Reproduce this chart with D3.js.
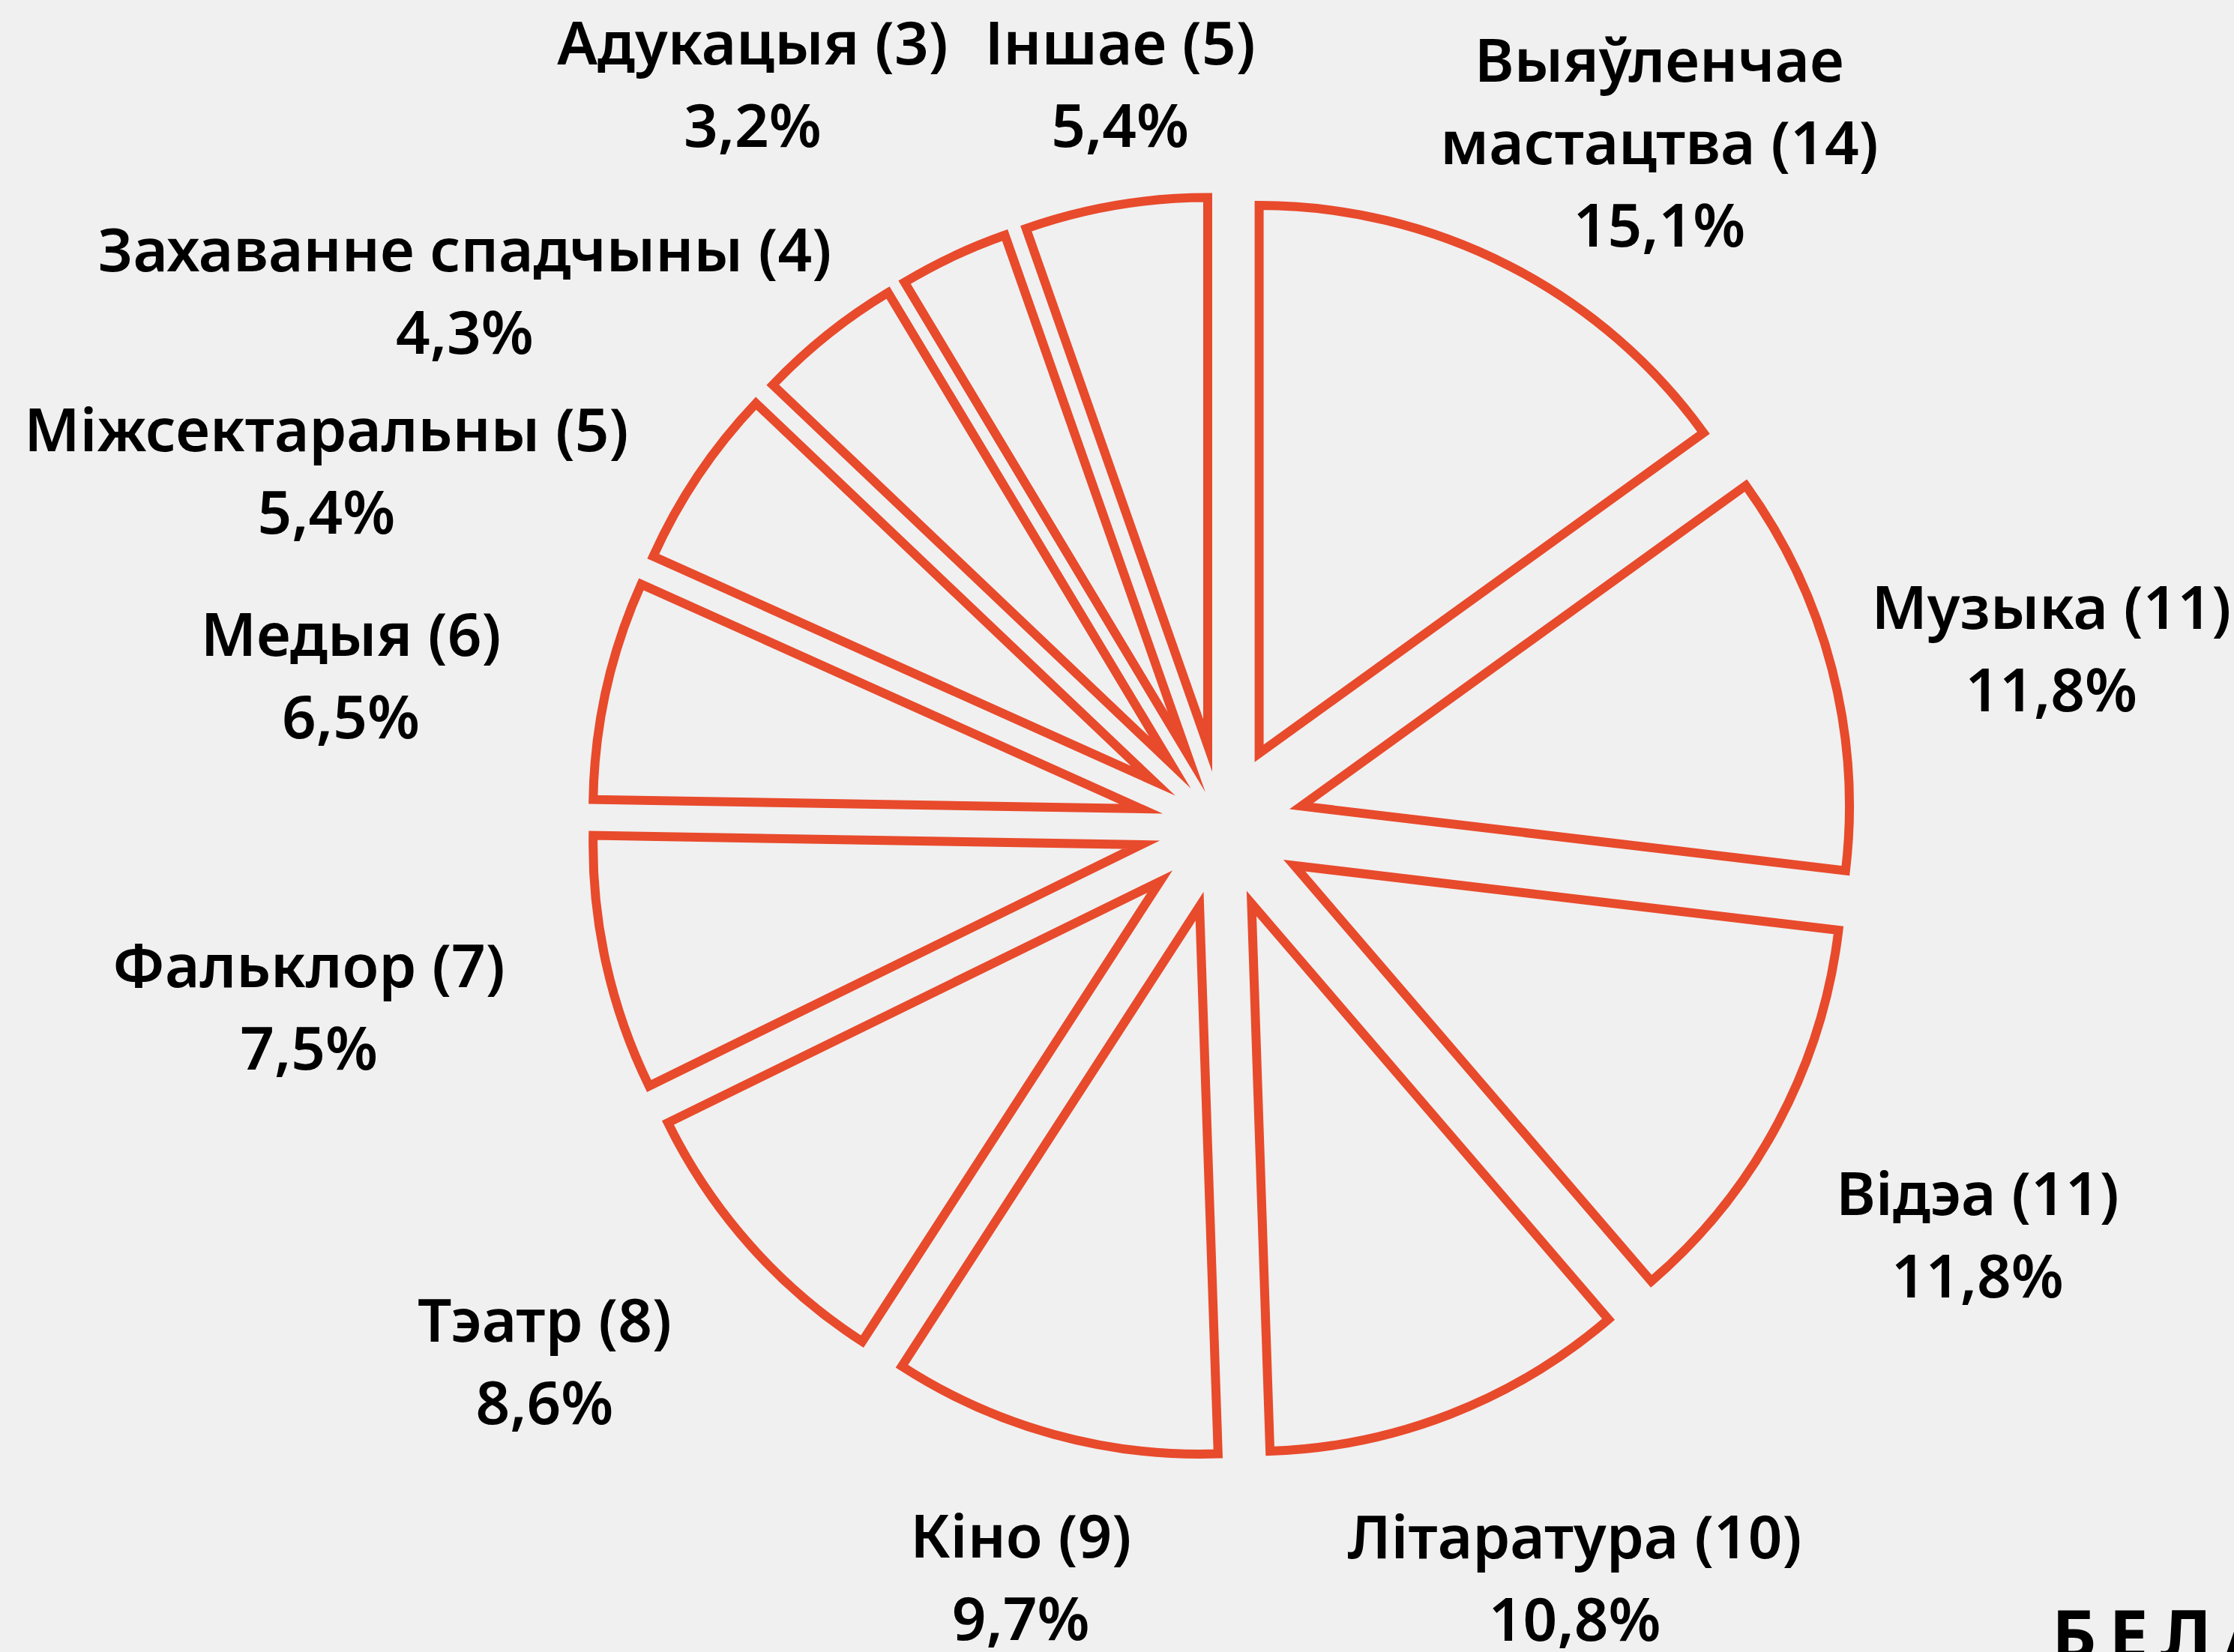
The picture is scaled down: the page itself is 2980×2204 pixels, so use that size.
<!DOCTYPE html>
<html><head><meta charset="utf-8">
<script src="https://cdn.jsdelivr.net/npm/d3@7"></script>
<style>html,body{margin:0;padding:0;background:#f0f0f0;overflow:hidden} svg{display:block}</style>
</head><body>
<script>
// ---- data ----
const categories = ["Выяўленчае мастацтва","Музыка","Відэа","Літаратура","Кіно","Тэатр","Фальклор","Медыя","Міжсектаральны","Захаванне спадчыны","Адукацыя","Іншае"];
const counts = [14,11,11,10,9,8,7,6,5,4,3,5];
const percentLabels = ["15,1%","11,8%","11,8%","10,8%","9,7%","8,6%","7,5%","6,5%","5,4%","4,3%","3,2%","5,4%"];
const footerText = "БЕЛАРУСЬ";

// ---- layout ----
const W = 2980, H = 2204;
const cx = 1629.5, cy = 1103, R = 731, explode = 110;
const color = "#e84a2c";
const fontFamily = "'Noto Sans', 'Open Sans', sans-serif";
const fontSize = 80, lineH = 110;
const wrapFirstWord = [true,false,false,false,false,false,false,false,false,false,false,false];
// label placement: polar nudges relative to slice bisector (degrees) and distance from pie centre
const labelAngleShift = [5.5,2.4,0.3,-3.9,-0.5,3.3,1.4,-2.7,-12.2,-16.0,-7.1,1.9];
const labelDist = [1084,1132,1146,1107,1036,1151,1241,1179,1285,1237,1172,1000];

const svg = d3.select("body").append("svg").attr("width", W).attr("height", H);
svg.append("rect").attr("width", W).attr("height", H).attr("fill", "#f0f0f0");

const data = categories.map((c,i)=>({name:c, value:counts[i], pct:percentLabels[i], i}));
const pie = d3.pie().sort(null).value(d=>d.value);
const arcs = pie(data);
const arc = d3.arc().innerRadius(0).outerRadius(R);

const g = svg.append("g").attr("transform", `translate(${cx},${cy})`);
g.selectAll("path.slice").data(arcs).join("path")
  .attr("class","slice")
  .attr("d", arc)
  .attr("transform", d => {
    const a = (d.startAngle + d.endAngle)/2;
    return `translate(${explode*Math.sin(a)},${-explode*Math.cos(a)})`;
  })
  .attr("fill","none")
  .attr("stroke", color)
  .attr("stroke-width", 12)
  .attr("stroke-linejoin","miter")
  .attr("stroke-miterlimit", 14);

const labels = g.selectAll("text.lbl").data(arcs).join("text")
  .attr("class","lbl")
  .attr("font-family", fontFamily)
  .attr("font-weight", 600)
  .attr("font-size", fontSize)
  .attr("fill", "#000")
  .attr("text-anchor","middle");

labels.each(function(d){
  const i = d.data.i;
  const a = (d.startAngle + d.endAngle)/2 + labelAngleShift[i]*Math.PI/180;
  const x = labelDist[i]*Math.sin(a), y = -labelDist[i]*Math.cos(a);
  let lines;
  const full = `${d.data.name} (${d.data.value})`;
  if (wrapFirstWord[i]) {
    const k = d.data.name.indexOf(" ");
    lines = [d.data.name.slice(0,k), `${d.data.name.slice(k+1)} (${d.data.value})`, d.data.pct];
  } else lines = [full, d.data.pct];
  const t = d3.select(this);
  lines.forEach((ln, j) => {
    t.append("tspan").attr("x", x)
      .attr("y", y + (j - (lines.length-1)/2)*lineH)
      .attr("dy", "0.36em")
      .text(ln);
  });
});

svg.append("text")
  .attr("x", 2737).attr("y", 2214)
  .attr("font-family", fontFamily).attr("font-weight", 700)
  .attr("font-size", 92).attr("letter-spacing", 17)
  .attr("fill","#000")
  .text(footerText);
</script>
</body></html>
